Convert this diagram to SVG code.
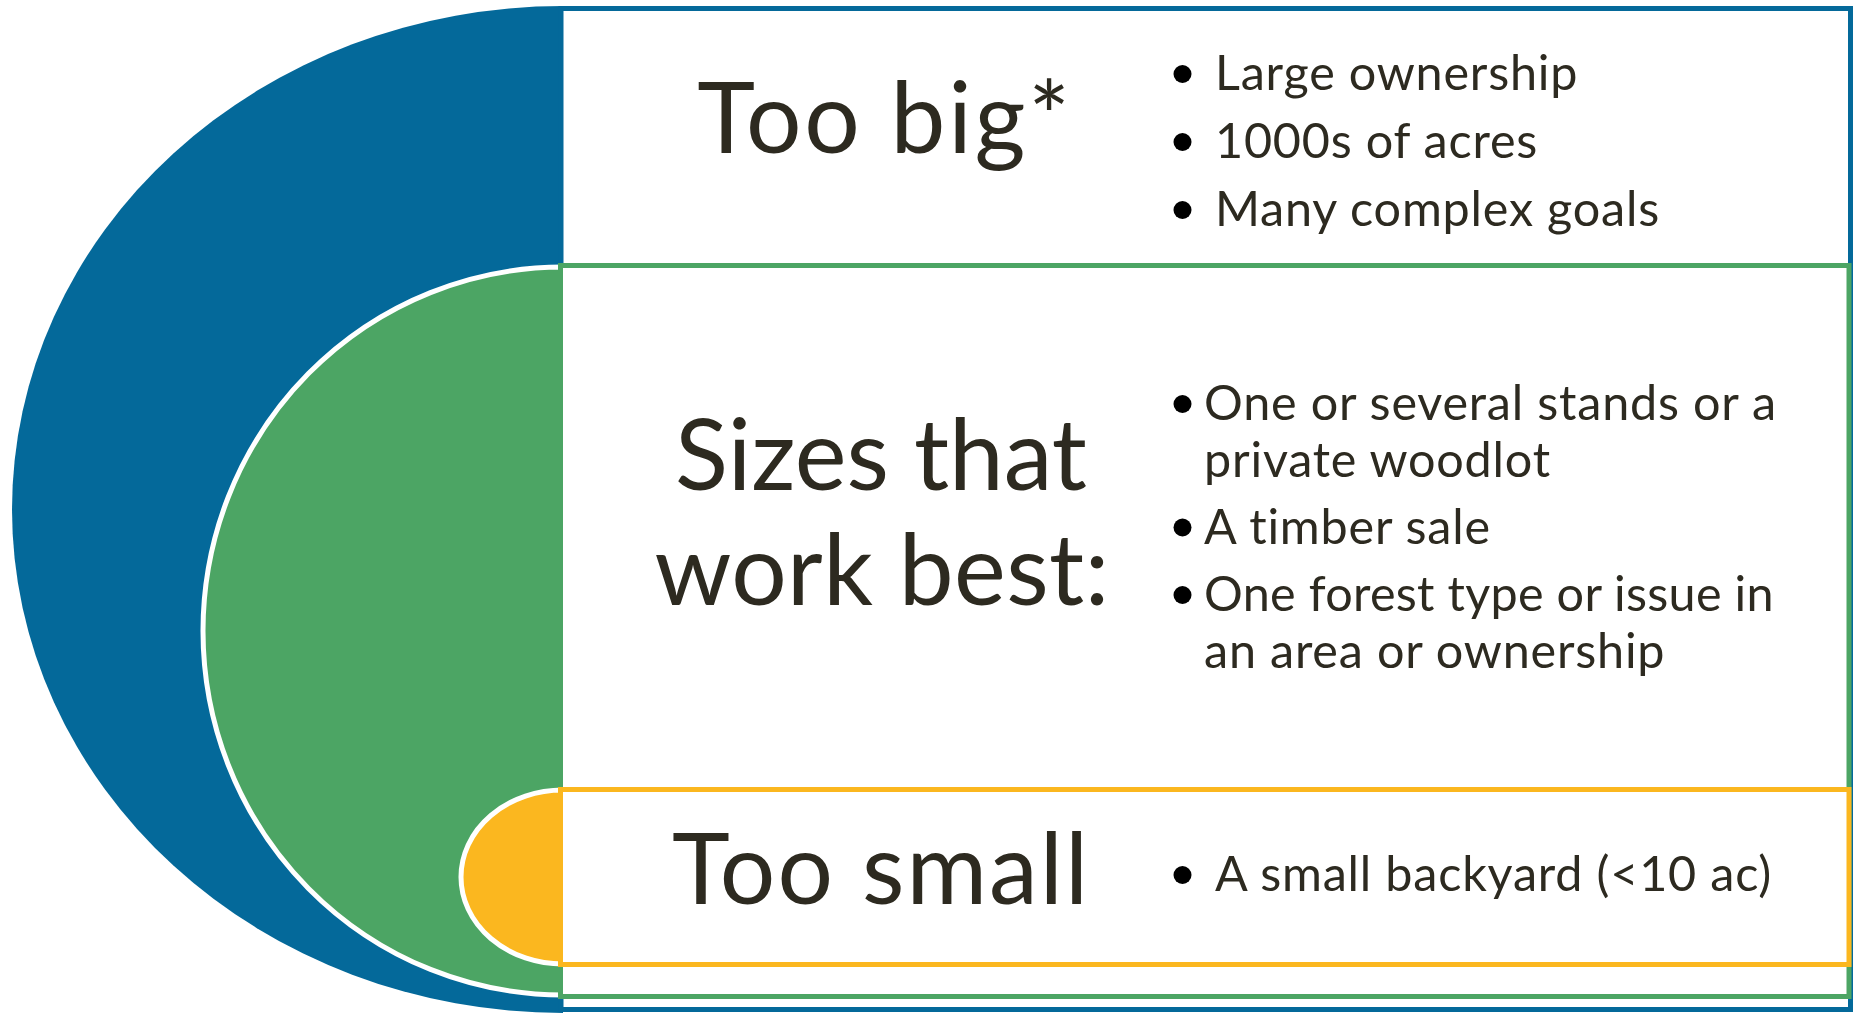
<svg xmlns="http://www.w3.org/2000/svg" width="1854" height="1016" viewBox="0 0 1854 1016">
<style>
.bg{fill:#ffffff}
.box{fill:#ffffff;stroke-width:5}
.half{stroke:#ffffff;stroke-width:5}
.head{font-family:Lato,"Liberation Sans",sans-serif;font-size:98px;fill:#2d2a20;text-anchor:middle;font-variant-ligatures:none}
.item{font-family:Lato,"Liberation Sans",sans-serif;font-size:48.5px;letter-spacing:0.8px;fill:#2d2a20;font-variant-ligatures:none}
.dot{fill:#000000}
</style>
<rect class="bg" x="0" y="0" width="1854" height="1016"/>
<g id="too-big">
<path d="M563,6 A551,503.5 0 0 0 563,1013 Z" fill="#04699a"/>
<rect class="box" x="561" y="8.5" width="1289.5" height="1001" stroke="#04699a"/>
<text class="head" x="885" y="153" letter-spacing="2.8">Too big*</text>
<circle class="dot" cx="1182.5" cy="74" r="9"/>
<circle class="dot" cx="1182.5" cy="142" r="9"/>
<circle class="dot" cx="1182.5" cy="210" r="9"/>
<text class="item" x="1215" y="90">Large ownership</text>
<text class="item" x="1215" y="158">1000s of acres</text>
<text class="item" x="1215" y="226">Many complex goals</text>
</g>
<g id="sizes-that-work-best">
<path class="half" d="M563,267 A360,364 0 0 0 563,995 Z" fill="#4ca564"/>
<rect class="box" x="560.5" y="265.5" width="1288.5" height="731" stroke="#4ca564"/>
<text class="head" x="881" y="490">Sizes that</text>
<text class="head" x="882" y="605" letter-spacing="0.4">work best:</text>
<circle class="dot" cx="1182.5" cy="404" r="9"/>
<circle class="dot" cx="1182.5" cy="527.5" r="9"/>
<circle class="dot" cx="1182.5" cy="595" r="9"/>
<text class="item" x="1204" y="420">One or several stands or a</text>
<text class="item" x="1204" y="477">private woodlot</text>
<text class="item" x="1204" y="543.5">A timber sale</text>
<text class="item" x="1204" y="611" style="letter-spacing:0.3px">One forest type or issue in</text>
<text class="item" x="1204" y="667.5">an area or ownership</text>
</g>
<g id="too-small">
<path class="half" d="M563,790 A102,87 0 0 0 563,964 Z" fill="#fbb71f"/>
<rect class="box" x="560.5" y="789.5" width="1288.5" height="175" stroke="#fbb71f"/>
<text class="head" x="881" y="904" letter-spacing="2">Too small</text>
<circle class="dot" cx="1182.5" cy="875" r="9"/>
<text class="item" x="1215" y="891">A small backyard (&lt;10 ac)</text>
</g>
</svg>
